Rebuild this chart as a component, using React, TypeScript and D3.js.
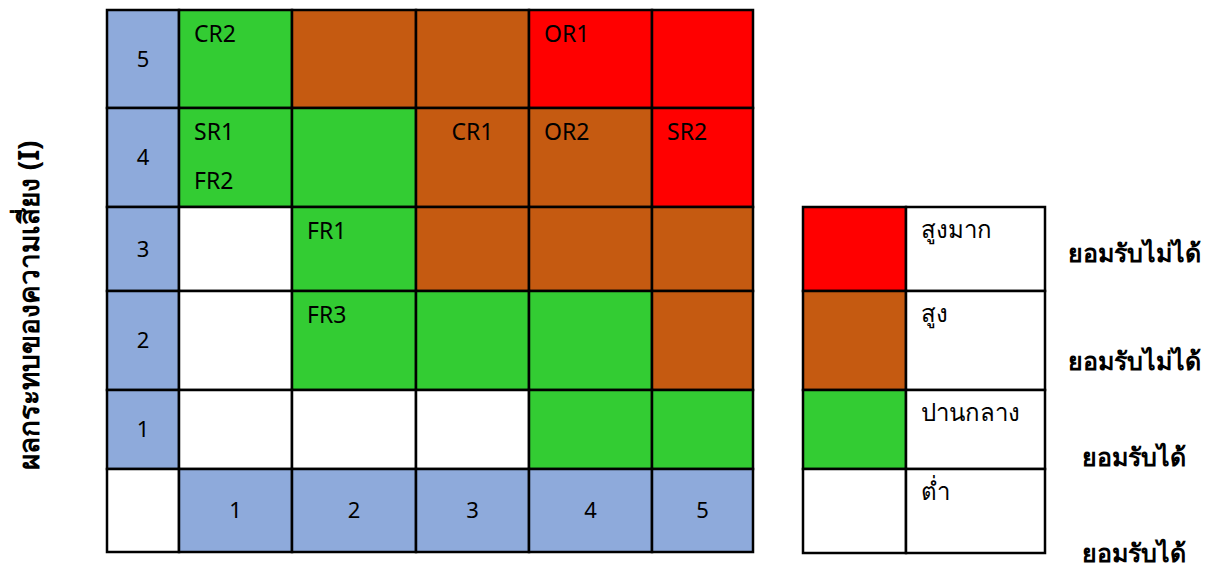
import React from 'react';
import * as d3 from 'd3';

// likelihood (columns) and impact (rows, top to bottom)
const likelihood = [1, 2, 3, 4, 5];
const impact = [5, 4, 3, 2, 1];

// risk level per cell, rows follow `impact`, columns follow `likelihood`
const levelMatrix = [
  ['moderate', 'high', 'high', 'veryHigh', 'veryHigh'],
  ['moderate', 'moderate', 'high', 'high', 'veryHigh'],
  ['low', 'moderate', 'high', 'high', 'high'],
  ['low', 'moderate', 'moderate', 'moderate', 'high'],
  ['low', 'low', 'low', 'moderate', 'moderate'],
];

// risks placed by likelihood (L) and impact (I)
const riskCodes = ['CR2', 'OR1', 'SR1', 'FR2', 'CR1', 'OR2', 'SR2', 'FR1', 'FR3'];
const riskL = [1, 4, 1, 1, 3, 4, 5, 2, 2];
const riskI = [5, 5, 4, 4, 4, 4, 4, 3, 2];

const levels = ['veryHigh', 'high', 'moderate', 'low'];
const levelNames = ['สูงมาก', 'สูง', 'ปานกลาง', 'ต่ำ'];
const acceptance = ['ยอมรับไม่ได้', 'ยอมรับไม่ได้', 'ยอมรับได้', 'ยอมรับได้'];

const yTitle = 'ผลกระทบของความเสี่ยง (I)';

const colors = d3
  .scaleOrdinal<string, string>()
  .domain(levels)
  .range(['#ff0000', '#c55a11', '#33cc33', '#ffffff']);

const HEADER = '#8eaadb';
const FONT = "Tahoma, 'Noto Sans', 'DejaVu Sans', sans-serif";

export default function App() {
  // uneven grid edges, mapped piecewise
  const x = d3.scaleLinear().domain(d3.range(7)).range([107, 179, 292, 416, 529, 652, 753]);
  const y = d3.scaleLinear().domain(d3.range(7)).range([10, 108, 207, 291, 390, 469, 552]);
  const lx = d3.scaleLinear().domain([0, 1, 2]).range([803, 906, 1045]);
  const ly = d3.scaleLinear().domain(d3.range(5)).range([207, 291, 390, 469, 553]);
  const acceptBaseline = [262, 370, 466, 562];

  const cells: any[] = [];
  impact.forEach((imp, r) => {
    cells.push({ key: `h${r}`, c: 0, r, fill: HEADER, text: String(imp) });
    likelihood.forEach((lk, c) => {
      cells.push({ key: `c${r}-${c}`, c: c + 1, r, fill: colors(levelMatrix[r][c]) });
    });
  });
  cells.push({ key: 'corner', c: 0, r: 5, fill: '#ffffff' });
  likelihood.forEach((lk, c) => {
    cells.push({ key: `b${c}`, c: c + 1, r: 5, fill: HEADER, text: String(lk) });
  });

  // stack risks sharing a cell
  const seen: Record<string, number> = {};
  const labels = riskCodes.map((code, i) => {
    const k = `${riskL[i]}-${riskI[i]}`;
    const n = seen[k] || 0;
    seen[k] = n + 1;
    const c = likelihood.indexOf(riskL[i]) + 1;
    const r = impact.indexOf(riskI[i]);
    const centered = code === 'CR1';
    return {
      code,
      x: centered ? (x(c) + x(c + 1)) / 2 : x(c) + 15,
      y: y(r) + 32 + n * 49,
      anchor: centered ? 'middle' : 'start',
    };
  });

  return (
    <svg width={1210} height={568} style={{ position: 'absolute', left: 0, top: 0, background: '#fff' }}
      fontFamily={FONT}>
      <text transform={`translate(39,${(y(0) + y(6)) / 2 + 24}) rotate(-90)`} textAnchor="middle"
        fontSize={28} fontWeight="bold" fill="#000">{yTitle}</text>

      <g>
        {cells.map(d => (
          <rect key={d.key} x={x(d.c)} y={y(d.r)} width={x(d.c + 1) - x(d.c)} height={y(d.r + 1) - y(d.r)}
            fill={d.fill} stroke="#000" strokeWidth={2.5} />
        ))}
        {cells.filter(d => d.text).map(d => (
          <text key={'t' + d.key} x={(x(d.c) + x(d.c + 1)) / 2} y={(y(d.r) + y(d.r + 1)) / 2}
            dy="0.35em" textAnchor="middle" fontSize={22} fill="#000">{d.text}</text>
        ))}
        {labels.map(d => (
          <text key={d.code} x={d.x} y={d.y} textAnchor={d.anchor} fontSize={23} fill="#000">{d.code}</text>
        ))}
      </g>

      <g>
        {levels.map((lv, i) => (
          <g key={lv}>
            <rect x={lx(0)} y={ly(i)} width={lx(1) - lx(0)} height={ly(i + 1) - ly(i)}
              fill={colors(lv)} stroke="#000" strokeWidth={2.5} />
            <rect x={lx(1)} y={ly(i)} width={lx(2) - lx(1)} height={ly(i + 1) - ly(i)}
              fill="#fff" stroke="#000" strokeWidth={2.5} />
            <text x={lx(1) + 15} y={ly(i) + 31} fontSize={24} fill="#000">{levelNames[i]}</text>
            <text x={1134} y={acceptBaseline[i]} textAnchor="middle" fontSize={25} fontWeight="bold"
              fill="#000">{acceptance[i]}</text>
          </g>
        ))}
      </g>
    </svg>
  );
}
